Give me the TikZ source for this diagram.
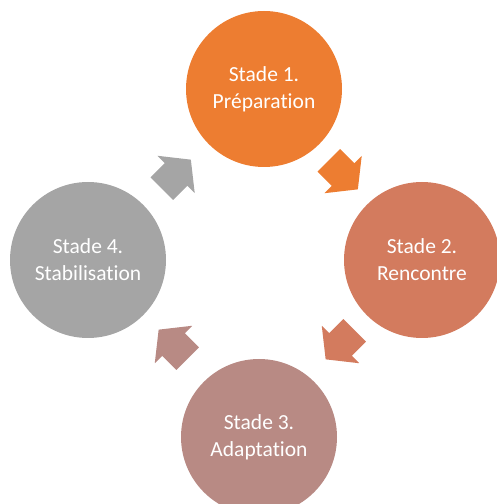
\documentclass[tikz,border=0pt]{standalone}
\usepackage{fontspec}
\setmainfont{Carlito}[Ligatures=NoCommon]
\usetikzlibrary{calc}
\definecolor{stageone}{HTML}{ED7D31}
\definecolor{stagetwo}{HTML}{D37B5E}
\definecolor{stagethree}{HTML}{B88A84}
\definecolor{stagefour}{HTML}{A5A5A5}
\tikzset{stage/.style={circle,minimum size=156pt,inner sep=0pt,text=white,align=center,font=\fontsize{21.5}{27}\selectfont}}
\tikzset{cyclearrow/.pic={\fill[#1] (-20,-16) -- (0,-16) -- (0,-26.5) -- (21,0) -- (0,26.5) -- (0,16) -- (-20,16) -- cycle;}}

\begin{document}
\begin{tikzpicture}[x=1pt,y=1pt]
\useasboundingbox (0,0) rectangle (497,504);
% the four stages
\node [stage,fill=stageone] (s1) at (264,415) {Stade 1.\\Préparation};
\node [stage,fill=stagetwo] (s2) at (422,244) {Stade 2.\\Rencontre};
\node [stage,fill=stagethree] (s3) at (259,67) {Stade 3.\\Adaptation};
\node [stage,fill=stagefour] (s4) at (88,244) {Stade 4.\\Stabilisation};
% arrows between them
\pic[rotate=-45] at ($(s1)!0.5!(s2)$) {cyclearrow=stageone};
\pic[rotate=-135] at ($(s2)!0.5!(s3)+(0,4)$) {cyclearrow=stagetwo};
\pic[rotate=135] at ($(s3)!0.5!(s4)+(0,4)$) {cyclearrow=stagethree};
\pic[rotate=45] at ($(s4)!0.5!(s1)$) {cyclearrow=stagefour};
\end{tikzpicture}
\end{document}
